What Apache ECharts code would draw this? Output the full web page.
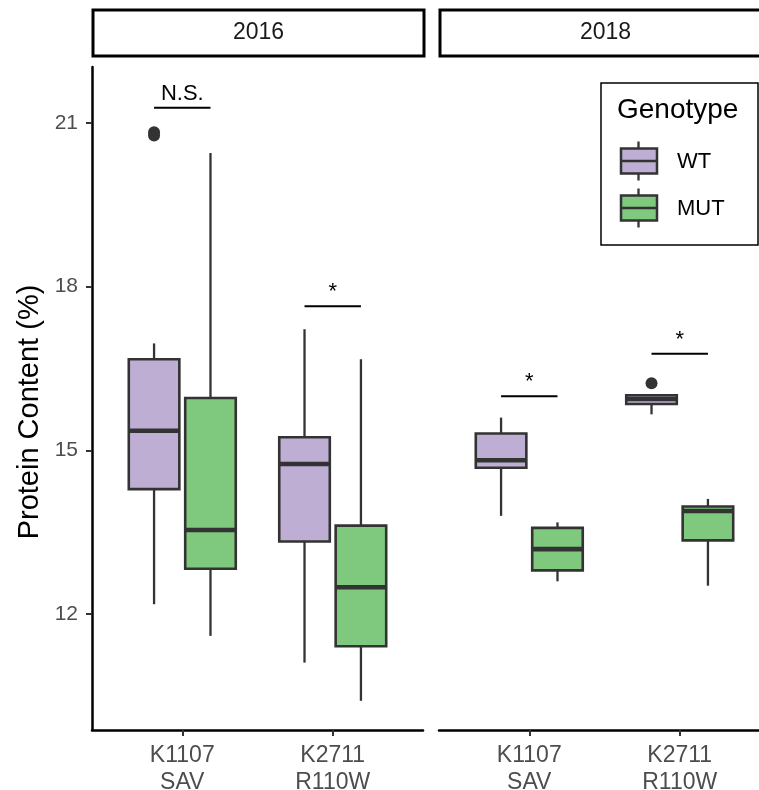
<!DOCTYPE html>
<html><head><meta charset="utf-8">
<script src="https://cdn.jsdelivr.net/npm/echarts@6/dist/echarts.min.js"></script>
<style>html,body{margin:0;padding:0;background:#fff}#c{width:759px;height:790px}</style>
</head><body><div id="c"></div>
<script>
// ---- data ----
const years = ['2016', '2018'];
const categories = ['K1107\nSAV', 'K2711\nR110W'];
const genotypes = ['WT', 'MUT'];
const yTicks = [12, 15, 18, 21];
const yTitle = 'Protein Content (%)';
// each entry: [low whisker, q1, median, q3, high whisker], one per category
const wt2016 = [[12.18, 14.29, 15.36, 16.67, 16.96], [11.11, 13.33, 14.75, 15.24, 17.22]];
const mut2016 = [[11.60, 12.83, 13.54, 15.96, 20.45], [10.41, 11.41, 12.49, 13.62, 16.67]];
const wt2018 = [[13.80, 14.68, 14.82, 15.31, 15.60], [15.66, 15.85, 15.94, 16.01, 16.01]];
const mut2018 = [[12.60, 12.80, 13.19, 13.58, 13.68], [12.52, 13.35, 13.89, 13.97, 14.11]];
// outliers: [category index, value]
const outWT2016 = [[0, 20.83], [0, 20.77]];
const outWT2018 = [[1, 16.23]];
// significance brackets: label and height
const sigLabels2016 = ['N.S.', '*'];
const sigY2016 = [21.28, 17.64];
const sigLabels2018 = ['*', '*'];
const sigY2018 = [15.99, 16.77];

// ---- style ----
const FONT = '"Liberation Sans", Arial, Helvetica, sans-serif';
const fills = ['#BEAED4', '#7FC97F'];
const DODGE = 0.1875, HALF = 0.168;

const chart = echarts.init(document.getElementById('c'), null, {renderer: 'canvas'});

function boxRender(params, api) {
  const x = api.value(0);
  const pLow = api.coord([x, api.value(1)]);
  const pQ1 = api.coord([x, api.value(2)]);
  const pMed = api.coord([x, api.value(3)]);
  const pQ3 = api.coord([x, api.value(4)]);
  const pHigh = api.coord([x, api.value(5)]);
  const left = api.coord([x - HALF, api.value(3)])[0];
  const right = api.coord([x + HALF, api.value(3)])[0];
  const fill = fills[api.value(6)];
  const ch = [];
  if (pLow[1] - pQ1[1] > 0.5) ch.push({type: 'line', shape: {x1: pLow[0], y1: pLow[1], x2: pQ1[0], y2: pQ1[1]}, style: {stroke: '#333', lineWidth: 2.3}});
  if (pQ3[1] - pHigh[1] > 0.5) ch.push({type: 'line', shape: {x1: pQ3[0], y1: pQ3[1], x2: pHigh[0], y2: pHigh[1]}, style: {stroke: '#333', lineWidth: 2.3}});
  ch.push({type: 'rect', shape: {x: left, y: pQ3[1], width: right - left, height: pQ1[1] - pQ3[1]}, style: {fill: fill, stroke: '#333', lineWidth: 2.6}});
  ch.push({type: 'line', shape: {x1: left, y1: pMed[1], x2: right, y2: pMed[1]}, style: {stroke: '#333', lineWidth: 4.6}});
  return {type: 'group', children: ch};
}

function sigRender(labels) {
  return function (params, api) {
    const c = api.value(0), y = api.value(1);
    const p1 = api.coord([c - DODGE, y]), p2 = api.coord([c + DODGE, y]);
    return {type: 'group', children: [
      {type: 'line', shape: {x1: p1[0], y1: p1[1], x2: p2[0], y2: p2[1]}, style: {stroke: '#000', lineWidth: 2}},
      {type: 'text', x: (p1[0] + p2[0]) / 2, y: p1[1] - 3, style: {text: labels[params.dataIndex], fill: '#000', font: '22px ' + FONT, align: 'center', verticalAlign: 'bottom'}}
    ]};
  };
}

function boxData(wt, mut) {
  const d = [];
  categories.forEach((c, ci) => {
    d.push([ci + 1 - DODGE].concat(wt[ci]).concat([0]));
    d.push([ci + 1 + DODGE].concat(mut[ci]).concat([1]));
  });
  return d;
}

const panels = [
  {wt: wt2016, mut: mut2016, out: outWT2016, sl: sigLabels2016, sy: sigY2016, left: 92},
  {wt: wt2018, mut: mut2018, out: outWT2018, sl: sigLabels2018, sy: sigY2018, left: 439}
];

const grids = [], xAxes = [], yAxes = [], series = [];
panels.forEach((p, i) => {
  grids.push({left: p.left, top: 67, width: 331, height: 663, containLabel: false, outerBoundsMode: 'none'});
  xAxes.push({
    gridIndex: i, type: 'value', min: 0.4, max: 2.6,
    axisLine: {show: true, onZero: false, lineStyle: {color: '#000', width: 2.5}},
    axisTick: {show: true, customValues: [1, 2], length: 6, lineStyle: {color: '#333', width: 2}},
    axisLabel: {show: true, customValues: [1, 2], formatter: v => categories[Math.round(v) - 1],
      color: '#4d4d4d', fontSize: 23, lineHeight: 27, margin: 12, fontFamily: FONT},
    splitLine: {show: false}
  });
  yAxes.push({
    gridIndex: i, type: 'value', min: 9.875, max: 22.026,
    axisLine: {show: i === 0, onZero: false, lineStyle: {color: '#000', width: 2.5}},
    axisTick: {show: i === 0, customValues: yTicks, length: 6, lineStyle: {color: '#333', width: 2}},
    axisLabel: {show: i === 0, customValues: yTicks, color: '#4d4d4d', fontSize: 21, margin: 14, fontFamily: FONT},
    splitLine: {show: false}
  });
  series.push({
    type: 'custom', name: 'box' + years[i], xAxisIndex: i, yAxisIndex: i, clip: false,
    renderItem: boxRender, data: boxData(p.wt, p.mut), silent: true
  });
  series.push({
    type: 'scatter', xAxisIndex: i, yAxisIndex: i, symbolSize: 12, silent: true,
    itemStyle: {color: '#333', opacity: 1},
    data: p.out.map(o => [o[0] + 1 - DODGE, o[1]])
  });
  series.push({
    type: 'custom', xAxisIndex: i, yAxisIndex: i, clip: false, silent: true,
    renderItem: sigRender(p.sl), data: p.sy.map((y, k) => [k + 1, y])
  });
});

const graphic = [];
// y axis title
graphic.push({type: 'text', x: 30, y: 412, rotation: Math.PI / 2,
  style: {text: yTitle, font: '29px ' + FONT, fill: '#000', align: 'center', verticalAlign: 'middle'}});
// facet strips
panels.forEach((p, i) => {
  graphic.push({type: 'rect', shape: {x: p.left + 1, y: 10, width: 331, height: 46},
    style: {fill: '#fff', stroke: '#000', lineWidth: 3}});
  graphic.push({type: 'text', x: p.left + 1 + 165.5, y: 33,
    style: {text: years[i], font: '23px ' + FONT, fill: '#1a1a1a', align: 'center', verticalAlign: 'middle'}});
});
// legend
graphic.push({type: 'rect', shape: {x: 601, y: 83, width: 157, height: 162}, style: {fill: '#fff', stroke: '#000', lineWidth: 1.5}});
graphic.push({type: 'text', x: 617, y: 110, style: {text: 'Genotype', font: '28px ' + FONT, fill: '#000', verticalAlign: 'middle'}});
genotypes.forEach((g, k) => {
  const cy = 161 + k * 47;
  graphic.push({type: 'line', shape: {x1: 638.5, y1: cy - 19.5, x2: 638.5, y2: cy + 19.5}, style: {stroke: '#333', lineWidth: 2.3}});
  graphic.push({type: 'rect', shape: {x: 621, y: cy - 12.5, width: 36, height: 25}, style: {fill: fills[k], stroke: '#333', lineWidth: 2.5}});
  graphic.push({type: 'line', shape: {x1: 621, y1: cy, x2: 657, y2: cy}, style: {stroke: '#333', lineWidth: 2.7}});
  graphic.push({type: 'text', x: 677, y: cy + 1, style: {text: g, font: '22px ' + FONT, fill: '#000', verticalAlign: 'middle'}});
});

chart.setOption({
  animation: false,
  backgroundColor: '#fff',
  grid: grids, xAxis: xAxes, yAxis: yAxes, series: series,
  graphic: graphic
});
</script>
</body></html>
